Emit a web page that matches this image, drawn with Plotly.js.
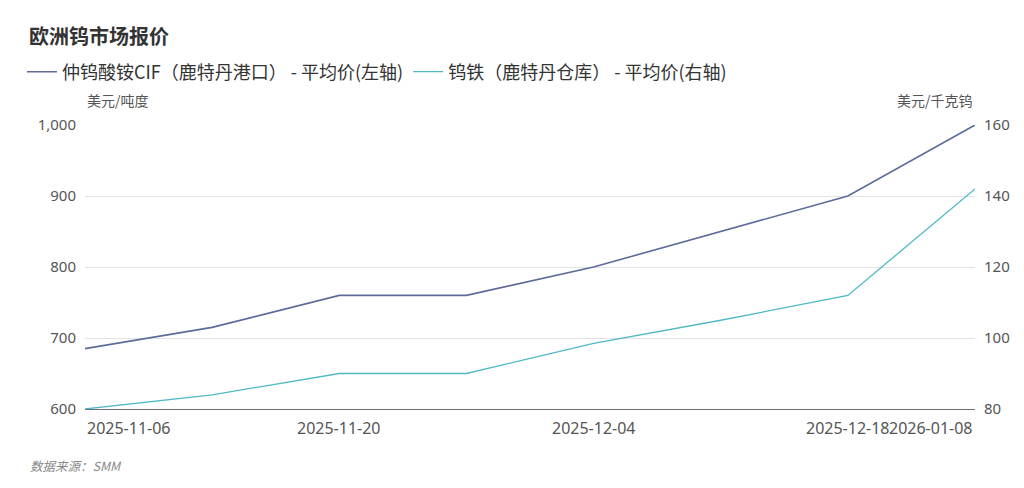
<!DOCTYPE html>
<html>
<head>
<meta charset="utf-8">
<script src="https://cdn.plot.ly/plotly-3.0.1.min.js"></script>
<style>
html,body{margin:0;padding:0;background:#fff;}
#chart{width:1024px;height:488px;}
</style>
</head>
<body>
<div id="chart"></div>
<script>
var dates = ["2025-11-06","2025-11-13","2025-11-20","2025-11-27","2025-12-04","2025-12-11","2025-12-18","2026-01-08"];
var aptValues = [685, 715, 760, 760, 800, 850, 900, 1000];
var feWValues = [80, 84, 90, 90, 98.5, 105, 112, 142];
var seriesNames = ["仲钨酸铵CIF（鹿特丹港口） - 平均价(左轴)", "钨铁（鹿特丹仓库） - 平均价(右轴)"];
var shownTickDates = ["2025-11-06","2025-11-20","2025-12-04","2025-12-18","2026-01-08"];
var titleText = "欧洲钨市场报价";
var leftUnit = "美元/吨度";
var rightUnit = "美元/千克钨";
var sourceText = "数据来源：SMM";

var FONT = "'Noto Sans CJK SC', 'Noto Sans', sans-serif";
var NUMFONT = "'Noto Sans', 'Noto Sans CJK SC', sans-serif";

var plotL = 85, plotR = 975, plotT = 125, plotB = 409;
function px2paperX(px){ return (px - plotL) / (plotR - plotL); }
function px2paperY(py){ return (plotB - py) / (plotB - plotT); }

var traces = [
  {x: dates, y: aptValues, name: seriesNames[0], type: "scatter", mode: "lines",
   line: {color: "#5c6b99", width: 1.6}, yaxis: "y", hoverinfo: "x+y"},
  {x: dates, y: feWValues, name: seriesNames[1], type: "scatter", mode: "lines",
   line: {color: "#4fb8c7", width: 1.3}, yaxis: "y2", hoverinfo: "x+y"}
];

var annotations = [];
shownTickDates.forEach(function(d, i){
  var anchor = "center";
  if (i === 0) anchor = "left";
  if (i === shownTickDates.length - 1) anchor = "right";
  annotations.push({x: d, xref: "x", y: 0, yref: "paper", yanchor: "top", yshift: -6,
    xanchor: anchor, text: d, showarrow: false, font: {family: NUMFONT, size: 16, color: "#555"}});
});
annotations.push({x: 0, xref: "paper", y: px2paperY(100), yref: "paper", xanchor: "left", yanchor: "middle",
  text: leftUnit, showarrow: false, font: {family: FONT, size: 14, color: "#555"}});
annotations.push({x: 1, xref: "paper", y: px2paperY(100), yref: "paper", xanchor: "right", yanchor: "middle",
  text: rightUnit, showarrow: false, font: {family: FONT, size: 14, color: "#555"}});
annotations.push({x: px2paperX(28), xref: "paper", y: px2paperY(465), yref: "paper", xanchor: "left", yanchor: "middle",
  text: "<i>" + sourceText + "</i>", showarrow: false, font: {family: FONT, size: 12.5, color: "#888"}});

var layout = {
  width: 1024, height: 488,
  paper_bgcolor: "#fff", plot_bgcolor: "#fff",
  margin: {l: plotL, r: 1024 - plotR, t: plotT, b: 488 - plotB},
  font: {family: FONT, color: "#555"},
  title: {text: "<b>" + titleText + "</b>", x: 29/1024, xref: "container", xanchor: "left",
          y: 1 - 37/488, yref: "container", yanchor: "middle",
          font: {family: FONT, size: 20, color: "#333"}},
  showlegend: true,
  legend: {orientation: "h", x: 22/1024, xref: "container", y: 1 - 72/488, yref: "container",
           xanchor: "left", yanchor: "middle", itemwidth: 30,
           font: {family: FONT, size: 18, color: "#333"}, bgcolor: "rgba(0,0,0,0)", tracegroupgap: 0},
  xaxis: {type: "category", range: [0, dates.length - 1], showticklabels: false, showgrid: false,
          zeroline: false, showline: true, linecolor: "#6e7079", linewidth: 1.2, ticks: "", fixedrange: true},
  yaxis: {range: [600, 1000], dtick: 100, tickformat: ",", showgrid: true, gridcolor: "#e3e3e3", gridwidth: 1,
          zeroline: false, showline: false, ticks: "", ticklabelstandoff: 8,
          tickfont: {family: NUMFONT, size: 15, color: "#555"}, fixedrange: true},
  yaxis2: {range: [80, 160], dtick: 20, overlaying: "y", side: "right", showgrid: false, zeroline: false,
           showline: false, ticks: "", ticklabelstandoff: 8,
           tickfont: {family: NUMFONT, size: 15, color: "#555"}, fixedrange: true},
  annotations: annotations
};

Plotly.newPlot("chart", traces, layout, {displayModeBar: false, staticPlot: true});
</script>
</body>
</html>
